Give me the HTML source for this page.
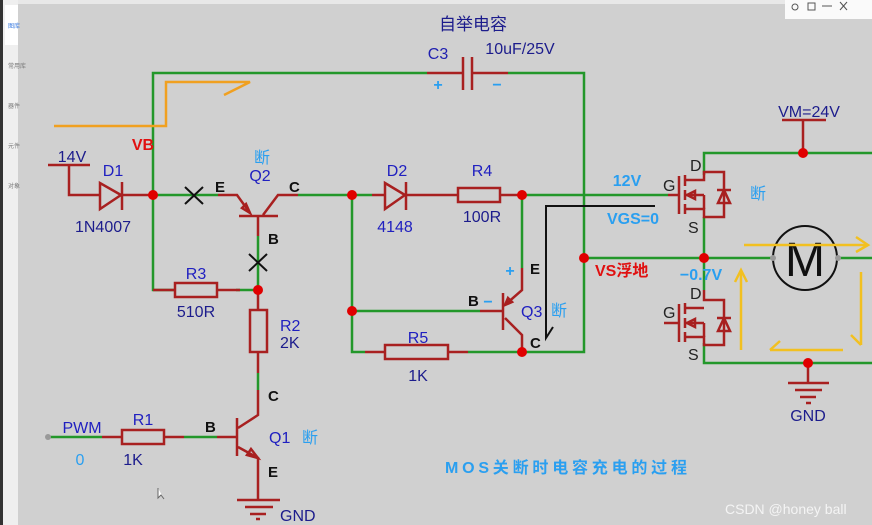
<!DOCTYPE html>
<html><head><meta charset="utf-8"><style>
html,body{margin:0;padding:0;width:872px;height:525px;overflow:hidden;background:#d0d0d0}
svg{display:block}
text{font-family:"Liberation Sans","Noto Sans CJK SC",sans-serif}
</style></head><body>
<svg width="872" height="525" viewBox="0 0 872 525" xmlns="http://www.w3.org/2000/svg">
<rect x="0" y="0" width="872" height="525" fill="#d0d0d0"/>
<rect x="0" y="0" width="3" height="525" fill="#333"/>
<rect x="3" y="0" width="15" height="525" fill="#efefef"/>
<rect x="5" y="5" width="13" height="40" fill="#fff"/>
<g font-size="6" fill="#777"><text x="8" y="28" fill="#3a7be0">图库</text><text x="8" y="68">常用库</text><text x="8" y="108">器件</text><text x="8" y="148">元件</text><text x="8" y="188">对象</text></g>
<rect x="18" y="0" width="854" height="4" fill="#e8e8e8"/>
<rect x="785" y="0" width="87" height="19" fill="#fafafa"/>
<g stroke="#555" stroke-width="1" fill="none"><circle cx="795" cy="7" r="3"/><rect x="808" y="3" width="7" height="7"/><line x1="822" y1="6" x2="832" y2="6"/><line x1="840" y1="2" x2="847" y2="10"/><line x1="847" y1="2" x2="840" y2="10"/></g>

<g stroke="#23972a" stroke-width="2.5" fill="none">
<polyline points="427,73 153,73 153,290 175,290"/>
<polyline points="508,73 584,73 584,352 522,352"/>
<line x1="153" y1="195" x2="218" y2="195"/>
<line x1="298" y1="195" x2="372" y2="195"/>
<line x1="258" y1="236" x2="258" y2="290"/>
<line x1="236" y1="290" x2="258" y2="290"/>
<polyline points="352,195 352,352 365,352"/>
<line x1="352" y1="311" x2="480" y2="311"/>
<line x1="468" y1="352" x2="522" y2="352"/>
<line x1="522" y1="195" x2="668" y2="195"/>
<line x1="522" y1="195" x2="522" y2="268"/>
<line x1="584" y1="258" x2="773" y2="258"/>
<line x1="838" y1="258" x2="872" y2="258"/>
<polyline points="704,175 704,153 872,153"/>
<line x1="704" y1="217" x2="704" y2="290"/>
<polyline points="704,343 704,363 872,363"/>
<line x1="48" y1="437" x2="102" y2="437"/>
<line x1="184" y1="437" x2="217" y2="437"/>
<line x1="258" y1="373" x2="258" y2="390"/>
</g>

<polyline points="54,126 166,126 166,82 250,82 224,95" stroke="#f0a020" stroke-width="2.5" fill="none"/>

<g stroke="#a82020" stroke-width="2.5" fill="none">
<line x1="427" y1="73" x2="463" y2="73"/><line x1="473" y1="73" x2="508" y2="73"/>
<line x1="463" y1="57" x2="463" y2="90"/><line x1="472" y1="57" x2="472" y2="90"/>
<line x1="48" y1="165" x2="90" y2="165"/><polyline points="69,165 69,195 100,195"/>
<polygon points="100,183 100,209 121,195"/><line x1="122" y1="182" x2="122" y2="210"/><line x1="122" y1="195" x2="153" y2="195"/>
<polyline points="218,195 237,195 250,213"/><line x1="239" y1="216" x2="278" y2="216"/>
<polyline points="263,215 278,195 298,195"/><line x1="258" y1="216" x2="258" y2="236"/>
<polygon points="250,213 242,208 246,204" />
<line x1="153" y1="290" x2="175" y2="290"/><rect x="175" y="283" width="42" height="14"/><line x1="217" y1="290" x2="240" y2="290"/>
<line x1="258" y1="290" x2="258" y2="310"/><rect x="250" y="310" width="17" height="42"/><line x1="258" y1="352" x2="258" y2="373"/>
<line x1="372" y1="195" x2="385" y2="195"/><polygon points="385,183 385,209 405,195"/><line x1="406" y1="182" x2="406" y2="210"/><line x1="406" y1="195" x2="458" y2="195"/>
<rect x="458" y="188" width="42" height="14"/><line x1="500" y1="195" x2="522" y2="195"/>
<polyline points="522,268 522,290 505,305"/><polygon points="505,305 508,298 512,302"/>
<line x1="480" y1="311" x2="503" y2="311"/><line x1="503" y1="293" x2="503" y2="330"/>
<polyline points="505,318 522,335 522,352"/>
<line x1="365" y1="352" x2="385" y2="352"/><rect x="385" y="345" width="63" height="14"/><line x1="448" y1="352" x2="468" y2="352"/>
<line x1="782" y1="120" x2="826" y2="120"/><line x1="803" y1="120" x2="803" y2="153"/>
<line x1="808" y1="363" x2="808" y2="383"/><line x1="788" y1="383" x2="829" y2="383"/><line x1="795" y1="390" x2="822" y2="390"/><line x1="800" y1="397" x2="816" y2="397"/><line x1="806" y1="403" x2="811" y2="403"/>
<line x1="102" y1="437" x2="122" y2="437"/><rect x="122" y="430" width="42" height="14"/><line x1="164" y1="437" x2="184" y2="437"/>
<line x1="217" y1="437" x2="237" y2="437"/><line x1="237" y1="418" x2="237" y2="456"/>
<polyline points="238,428 258,415 258,390"/>
<polyline points="238,447 258,458 258,500"/><polygon points="258,458 247,455 251,449"/>
<line x1="237" y1="500" x2="280" y2="500"/><line x1="245" y1="507" x2="273" y2="507"/><line x1="250" y1="514" x2="266" y2="514"/><line x1="256" y1="519" x2="260" y2="519"/>
</g>

<g stroke="#a82020" stroke-width="2.5" fill="none">
<g>
<line x1="668" y1="195" x2="679" y2="195"/><line x1="679" y1="176" x2="679" y2="214"/>
<line x1="685" y1="175" x2="685" y2="186"/><line x1="685" y1="190" x2="685" y2="200"/><line x1="685" y1="204" x2="685" y2="214"/>
<polyline points="685,180 704,180 704,172 724,172 724,217 704,217 704,209 685,209"/>
<line x1="685" y1="195" x2="704" y2="195"/><line x1="704" y1="195" x2="704" y2="209"/>
<polygon points="687,195 695,191 695,199"/>
<polygon points="724,190 718,203 730,203"/><line x1="717" y1="190" x2="731" y2="190"/>
</g>
<g transform="translate(0,128)">
<line x1="664" y1="195" x2="679" y2="195"/><line x1="679" y1="176" x2="679" y2="214"/>
<line x1="685" y1="175" x2="685" y2="186"/><line x1="685" y1="190" x2="685" y2="200"/><line x1="685" y1="204" x2="685" y2="214"/>
<polyline points="704,162 704,172 724,172 724,217 704,217 704,209 685,209"/>
<line x1="685" y1="180" x2="704" y2="180"/>
<line x1="685" y1="195" x2="704" y2="195"/><line x1="704" y1="195" x2="704" y2="209"/>
<polygon points="687,195 695,191 695,199"/>
<polygon points="724,190 718,203 730,203"/><line x1="717" y1="190" x2="731" y2="190"/>
</g>
</g>

<circle cx="805" cy="258" r="32" fill="none" stroke="#111" stroke-width="2"/>
<text x="805" y="276" font-size="48" text-anchor="middle" fill="#111">M</text>
<circle cx="773" cy="258" r="3" fill="#999"/><circle cx="838" cy="258" r="3" fill="#999"/>
<circle cx="48" cy="437" r="3" fill="#999"/>

<g stroke="#f2c020" stroke-width="2.5" fill="none">
<line x1="744" y1="245" x2="868" y2="245"/><polyline points="856,237 868,245 856,252"/>
<line x1="741" y1="350" x2="741" y2="270"/><polyline points="735,282 741,270 747,282"/>
<line x1="861" y1="272" x2="861" y2="345"/><polyline points="851,335 861,345"/>
<line x1="770" y1="350" x2="843" y2="350"/><polyline points="780,341 770,350"/>
</g>

<g stroke="#111" stroke-width="2" fill="none">
<polyline points="655,206 546,206 546,338 553,327"/>
<line x1="185" y1="187" x2="203" y2="204"/><line x1="203" y1="187" x2="185" y2="204"/>
<line x1="249" y1="254" x2="267" y2="271"/><line x1="267" y1="254" x2="249" y2="271"/>
</g>

<g fill="#e00000">
<circle cx="153" cy="195" r="5"/><circle cx="258" cy="290" r="5"/><circle cx="352" cy="195" r="5"/><circle cx="522" cy="195" r="5"/>
<circle cx="352" cy="311" r="5"/><circle cx="522" cy="352" r="5"/><circle cx="584" cy="258" r="5"/><circle cx="704" cy="258" r="5"/>
<circle cx="803" cy="153" r="5"/><circle cx="808" cy="363" r="5"/>
</g>

<g fill="#1c1c8c" font-size="16">
<text x="473" y="30" text-anchor="middle" font-size="17">自举电容</text>
<text x="438" y="59" text-anchor="middle" fill="#2020b0">C3</text>
<text x="520" y="54" text-anchor="middle">10uF/25V</text>
<text x="72" y="162" text-anchor="middle">14V</text>
<text x="113" y="176" text-anchor="middle" fill="#2020c0">D1</text>
<text x="103" y="232" text-anchor="middle">1N4007</text>
<text x="260" y="181" text-anchor="middle" fill="#2020c0">Q2</text>
<text x="397" y="176" text-anchor="middle" fill="#2020c0">D2</text>
<text x="395" y="232" text-anchor="middle" fill="#2020c0">4148</text>
<text x="482" y="176" text-anchor="middle" fill="#2020c0">R4</text>
<text x="482" y="222" text-anchor="middle">100R</text>
<text x="196" y="279" text-anchor="middle" fill="#2020c0">R3</text>
<text x="196" y="317" text-anchor="middle">510R</text>
<text x="280" y="331" fill="#2020c0">R2</text>
<text x="280" y="348">2K</text>
<text x="418" y="343" text-anchor="middle" fill="#2020c0">R5</text>
<text x="418" y="381" text-anchor="middle">1K</text>
<text x="521" y="317" fill="#2020c0">Q3</text>
<text x="82" y="433" text-anchor="middle" fill="#2020c0">PWM</text>
<text x="143" y="425" text-anchor="middle" fill="#2020c0">R1</text>
<text x="133" y="465" text-anchor="middle">1K</text>
<text x="269" y="443" fill="#2020c0">Q1</text>
<text x="280" y="521">GND</text>
<text x="808" y="421" text-anchor="middle">GND</text>
<text x="809" y="117" text-anchor="middle">VM=24V</text>
</g>
<g fill="#111" font-size="15" font-weight="bold">
<text x="215" y="192">E</text><text x="289" y="192">C</text><text x="268" y="244">B</text>
<text x="530" y="274">E</text><text x="530" y="348">C</text><text x="468" y="306">B</text>
<text x="268" y="401">C</text><text x="205" y="432">B</text><text x="268" y="477">E</text>
</g>
<g fill="#222" font-size="16">
<text x="690" y="171">D</text><text x="663" y="191">G</text><text x="688" y="233">S</text>
<text x="690" y="299">D</text><text x="663" y="318">G</text><text x="688" y="360">S</text>
</g>
<g fill="#2a9ff0" font-size="16" font-weight="bold">
<text x="438" y="90" text-anchor="middle">+</text><text x="497" y="90" text-anchor="middle">−</text>
<text x="254" y="163" font-weight="normal">断</text>
<text x="750" y="199" font-weight="normal">断</text>
<text x="551" y="316" font-weight="normal">断</text>
<text x="302" y="443" font-weight="normal">断</text>
<text x="627" y="186" text-anchor="middle">12V</text>
<text x="633" y="224" text-anchor="middle">VGS=0</text>
<text x="701" y="280" text-anchor="middle">−0.7V</text>
<text x="510" y="276" text-anchor="middle">+</text><text x="488" y="307" text-anchor="middle">−</text>
<text x="80" y="465" text-anchor="middle" font-weight="normal">0</text>
<text x="445" y="473" font-size="16" textLength="242" lengthAdjust="spacing">MOS关断时电容充电的过程</text>
</g>
<g fill="#e01010" font-size="16" font-weight="bold">
<text x="143" y="150" text-anchor="middle">VB</text>
<text x="595" y="276">VS浮地</text>
</g>
<text x="725" y="514" font-size="14" fill="#f4f4f4">CSDN @honey ball</text>
<path d="M158,488 l0,10 l3,-3 l3,4" stroke="#666" fill="#fff" stroke-width="1"/>
</svg>
</body></html>
